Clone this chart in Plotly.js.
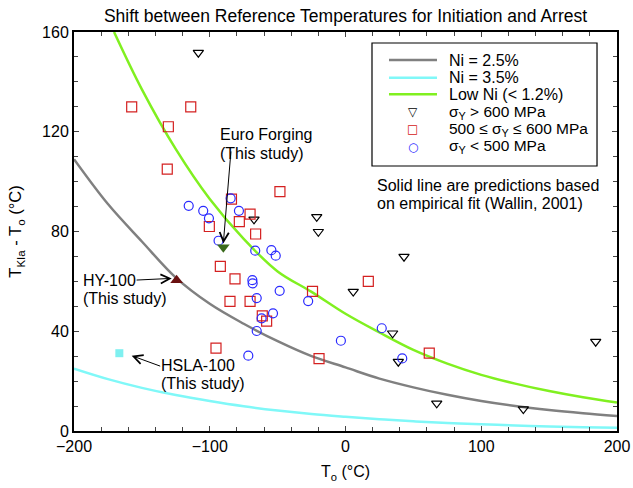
<!DOCTYPE html>
<html>
<head>
<meta charset="utf-8">
<script src="https://cdn.plot.ly/plotly-3.0.1.min.js"></script>
<style>html,body{margin:0;padding:0;background:#fff;}#chart{width:633px;height:488px;}</style>
</head>
<body>
<div id="chart"></div>
<script>
// Fitted curves
var curveT = [-200,-175,-150,-125,-100,-75,-50,-25,0,25,50,75,100,125,150,175,200];
var ni25 = [109,91,76,61.5,51,43,36,30,25.5,21,17.5,14.5,12,10,8.4,7.1,6];
var ni35 = [25,20.8,17.3,14.4,12,9.9,8.2,6.8,5.7,4.7,3.9,3.2,2.7,2.2,1.8,1.5,1.3];
var lowNiT = [-170.5,-150,-125,-100,-75,-50,-25,0,25,50,75,100,125,150,175,200];
var lowNi = [160,137,113,93,77,64,55.8,47,39.5,32.5,27,22.5,19,16,13.5,11.4];

// sigma_Y > 600 MPa
var hiT = [-108.4,-67.4,-21.2,-20,43.1,5.7,34.7,38.9,67.2,131,184.3];
var hiY = [151.7,84.9,85.9,79.9,69.9,55.9,39.2,27.8,11.1,8.8,35.8];
// 500 <= sigma_Y <= 600 MPa
var midT = [-157.5,-114,-130.5,-131.3,-84,-48.3,-70.3,-78.2,-100.3,-66.2,-92.2,-81.4,-85.1,-70.3,-61.3,-58.1,-24.3,16.8,-95.4,-19.5,61.7];
var midY = [130,130,122,105,93,96,87,84,82,79,66,61,52,52,46.2,44.1,56,60,33.2,29,31.2];
// sigma_Y < 500 MPa
var loT = [-115.5,-104.8,-100.6,-84.6,-78.5,-93.5,-66.5,-54.6,-51.4,-68.6,-68.4,-65.4,-48.5,-27.5,-53.4,-61.8,-65.4,-3.4,26.7,-71.6,41.8];
var loY = [90.3,88.3,85.3,93.3,88.3,76.3,72.3,72.5,70.3,60.5,59.2,53.3,56.2,52.1,47.2,45.2,40.1,36.2,41.2,30.2,29.1];

// This study
var studyNames = ["Euro Forging","HY-100","HSLA-100"];
var studyT = [-90,-124.4,-166.6];
var studyY = [73.7,60.5,31.2];

// Legend labels
var lineNames = ["Ni = 2.5%", "Ni = 3.5%", "Low Ni (< 1.2%)"];
var lineColors = ["#808080", "#80f8f8", "#80f020"];
var markerNames = ["σ<sub>Y</sub> > 600 MPa", "500 ≤ σ<sub>Y</sub> ≤ 600 MPa", "σ<sub>Y</sub> < 500 MPa"];
var markerGlyphs = ["▽", "□", "○"];
var markerColors = ["#000000", "#d42020", "#2a2aff"];
var noteLines = ["Solid line are predictions based", "on empirical fit (Wallin, 2001)"];

var FONT = "Liberation Sans, Arial, Helvetica, sans-serif";

var traces = [
  {x: curveT, y: ni25, mode: "lines", name: lineNames[0], line: {color: lineColors[0], width: 2.5, shape: "spline"}},
  {x: curveT, y: ni35, mode: "lines", name: lineNames[1], line: {color: lineColors[1], width: 2.5, shape: "spline"}},
  {x: lowNiT, y: lowNi, mode: "lines", name: lineNames[2], line: {color: lineColors[2], width: 2.5, shape: "spline"}},
  {x: hiT, y: hiY, mode: "markers", name: markerNames[0],
   marker: {symbol: "triangle-down-open", size: 9, color: markerColors[0], line: {width: 1.2}}},
  {x: midT, y: midY, mode: "markers", name: markerNames[1],
   marker: {symbol: "square-open", size: 10, color: markerColors[1], line: {width: 1.2}}},
  {x: loT, y: loY, mode: "markers", name: markerNames[2],
   marker: {symbol: "circle-open", size: 9, color: markerColors[2], line: {width: 1.2}}},
  {x: [studyT[0]], y: [studyY[0]], mode: "markers", name: studyNames[0],
   marker: {symbol: "triangle-down", size: 11, color: "#3a6a1c"}},
  {x: [studyT[1]], y: [studyY[1]], mode: "markers", name: studyNames[1],
   marker: {symbol: "triangle-up", size: 11, color: "#6a1010"}},
  {x: [studyT[2]], y: [studyY[2]], mode: "markers", name: studyNames[2],
   marker: {symbol: "square", size: 8, color: "#7ff0f0"}}
];

function arrow(hx, hy, tx, ty) {
  return {x: hx, y: hy, ax: tx, ay: ty, xref: "x", yref: "y", axref: "x", ayref: "y",
    text: "", showarrow: true, arrowhead: 5, arrowsize: 1.8, arrowwidth: 1, arrowcolor: "#000", standoff: 0, startstandoff: 0};
}
function label(txt, px, py, size, color, anchor) {
  return {x: px, y: py, xref: "paper", yref: "paper", xanchor: anchor || "left", yanchor: "middle", align: "left",
    text: txt, showarrow: false, font: {family: FONT, size: size, color: color || "#000"}};
}

var annotations = [
  label(studyNames[0], 0.2652, 0.7419, 16),
  label("(This study)", 0.2652, 0.6967, 16),
  label(studyNames[1], 0.0129, 0.3784, 16),
  label("(This study)", 0.0129, 0.3333, 16),
  label(studyNames[2], 0.1560, 0.1654, 16),
  label("(This study)", 0.1560, 0.1203, 16),
  label(noteLines[0], 0.5543, 0.6165, 16),
  label(noteLines[1], 0.5543, 0.5714, 16),
  arrow(-90, 75.2, -84.3, 112.7),
  arrow(-128, 61.2, -155, 60.5),
  arrow(-157.5, 30.2, -135.4, 25.8)
];

// Hand-made legend (tight row spacing like the reference)
var legendRowsY = [0.9298, 0.8855, 0.8439, 0.7990, 0.7557, 0.7123];
var shapes = [
  {type: "rect", xref: "paper", yref: "paper", x0: 0.5488, x1: 0.9632, y0: 0.6642, y1: 0.9724,
   line: {color: "#000", width: 1.2}, fillcolor: "#fff", layer: "below"}
];
for (var i = 0; i < 3; i++) {
  shapes.push({type: "line", xref: "paper", yref: "paper", x0: 0.5801, x1: 0.6685,
    y0: legendRowsY[i], y1: legendRowsY[i], line: {color: lineColors[i], width: 2.5}});
  annotations.push(label(lineNames[i], 0.6869, legendRowsY[i], 16));
}
for (var j = 0; j < 3; j++) {
  annotations.push(label(markerGlyphs[j], 0.6243, legendRowsY[3 + j], 12, markerColors[j], "center"));
  annotations[annotations.length - 1].font.family = "DejaVu Sans, sans-serif";
  annotations.push(label(markerNames[j], 0.6869, legendRowsY[3 + j], 15.5));
}

var layout = {
  width: 633, height: 488,
  margin: {l: 74, r: 16, t: 32, b: 57},
  paper_bgcolor: "#fff", plot_bgcolor: "#fff",
  font: {family: FONT, size: 16, color: "#000"},
  title: {text: "Shift between Reference Temperatures for Initiation and Arrest",
    font: {family: FONT, size: 17.5, color: "#000"}, x: 0.5, xref: "paper", y: 0.967, yanchor: "middle"},
  xaxis: {range: [-200, 200], dtick: 100, tick0: -200, ticks: "inside", ticklen: 5, tickwidth: 1,
    showline: true, linecolor: "#000", linewidth: 2, mirror: "ticks", showgrid: false, zeroline: false,
    tickfont: {family: FONT, size: 16},
    minor: {dtick: 20, ticks: "inside", ticklen: 4, tickwidth: 1, showgrid: false},
    title: {text: "T<sub>o</sub> (°C)", font: {family: FONT, size: 16}, standoff: 12}},
  yaxis: {range: [0, 160], dtick: 40, ticks: "inside", ticklen: 5, tickwidth: 1,
    showline: true, linecolor: "#000", linewidth: 2, mirror: "ticks", showgrid: false, zeroline: false,
    tickfont: {family: FONT, size: 16},
    minor: {dtick: 10, ticks: "inside", ticklen: 4, tickwidth: 1, showgrid: false},
    title: {text: "T<sub>KIa</sub> - T<sub>o</sub> (°C)", font: {family: FONT, size: 16.5}, standoff: 16}},
  showlegend: false,
  shapes: shapes,
  annotations: annotations
};

Plotly.newPlot("chart", traces, layout, {staticPlot: true, displayModeBar: false});
</script>
</body>
</html>
